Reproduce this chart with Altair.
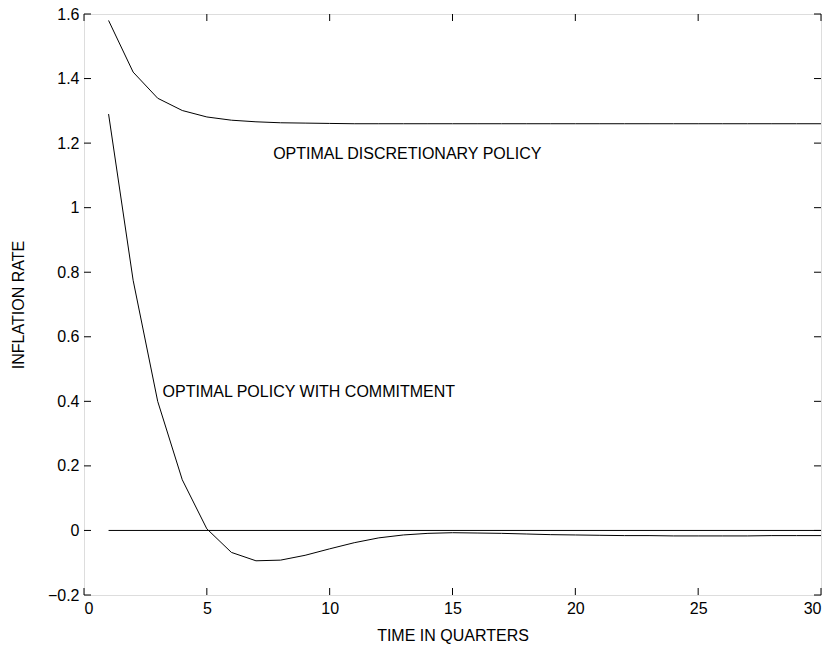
import altair as alt
import pandas as pd

quarters = list(range(1, 31))
discretionary = [1.58, 1.42, 1.339, 1.301, 1.281, 1.271, 1.266, 1.263, 1.262, 1.261,
                 1.260, 1.260, 1.260, 1.260, 1.260, 1.260, 1.260, 1.260, 1.260, 1.260,
                 1.260, 1.260, 1.260, 1.260, 1.260, 1.260, 1.260, 1.260, 1.260, 1.260]
commitment = [1.29, 0.775, 0.40, 0.157, 0.005, -0.068, -0.094, -0.092, -0.077, -0.057,
              -0.038, -0.023, -0.014, -0.009, -0.007, -0.008, -0.009, -0.011, -0.013, -0.014,
              -0.015, -0.016, -0.016, -0.017, -0.017, -0.017, -0.017, -0.016, -0.016, -0.016]
zero_x = [1, 30]
zero_y = [0, 0]
x_ticks = [0, 5, 10, 15, 20, 25, 30]
y_ticks = [-0.2, 0, 0.2, 0.4, 0.6, 0.8, 1.0, 1.2, 1.4, 1.6]
label_text = ["OPTIMAL DISCRETIONARY POLICY", "OPTIMAL POLICY WITH COMMITMENT"]
label_x = [7.7, 3.2]
label_y = [1.166, 0.43]

W, H = 737, 581
FONT = "Liberation Sans"
FS = 16

df = pd.DataFrame({
    "t": quarters * 2,
    "v": discretionary + commitment,
    "s": ["disc"] * 30 + ["comm"] * 30,
})
zdf = pd.DataFrame({"t": zero_x, "v": zero_y})
xt = pd.DataFrame({"t": x_ticks})
yt = pd.DataFrame({"v": y_ticks})
ldf = pd.DataFrame({"t": label_x, "v": label_y, "txt": label_text})

xscale = alt.Scale(domain=[0, 30], nice=False, zero=False)
yscale = alt.Scale(domain=[-0.2, 1.6], nice=False, zero=False)

xaxis = alt.Axis(values=x_ticks, domain=False, ticks=False, grid=False,
                 labelFont=FONT, labelFontSize=FS, labelColor="black", labelPadding=5,
                 title="TIME IN QUARTERS", titleFont=FONT, titleFontSize=FS,
                 titleFontWeight="normal", titleColor="black", titlePadding=11)
yaxis = alt.Axis(values=y_ticks, format=".1~f", domain=False, ticks=False, grid=False,
                 labelFont=FONT, labelFontSize=FS, labelColor="black", labelPadding=5,
                 title="INFLATION RATE", titleFont=FONT, titleFontSize=FS,
                 titleFontWeight="normal", titleColor="black", titlePadding=21)

lines = alt.Chart(df).mark_line(color="black", strokeWidth=1).encode(
    x=alt.X("t:Q", scale=xscale, axis=xaxis),
    y=alt.Y("v:Q", scale=yscale, axis=yaxis),
    detail="s:N",
)
zero = alt.Chart(zdf).mark_line(color="black", strokeWidth=1).encode(
    x=alt.X("t:Q", scale=xscale), y=alt.Y("v:Q", scale=yscale)
)
TL = 7
xb = alt.Chart(xt).mark_rule(color="black", strokeWidth=1).encode(
    x=alt.X("t:Q", scale=xscale), y=alt.value(H), y2=alt.value(H - TL))
xtop = alt.Chart(xt).mark_rule(color="black", strokeWidth=1).encode(
    x=alt.X("t:Q", scale=xscale), y=alt.value(0), y2=alt.value(TL))
yl = alt.Chart(yt).mark_rule(color="black", strokeWidth=1).encode(
    y=alt.Y("v:Q", scale=yscale), x=alt.value(0), x2=alt.value(TL))
yr = alt.Chart(yt).mark_rule(color="black", strokeWidth=1).encode(
    y=alt.Y("v:Q", scale=yscale), x=alt.value(W), x2=alt.value(W - TL))
labels = alt.Chart(ldf).mark_text(align="left", baseline="middle", font=FONT,
                                  fontSize=FS, color="black").encode(
    x=alt.X("t:Q", scale=xscale), y=alt.Y("v:Q", scale=yscale), text="txt:N")

chart = alt.layer(lines, zero, xb, xtop, yl, yr, labels).properties(
    width=W, height=H,
    autosize=alt.AutoSizeParams(type="none"),
    padding={"left": 84, "top": 14, "right": 11, "bottom": 61},
).configure_view(stroke="black", strokeWidth=1.3).configure(background="white")

chart.save("out.html", embed_options={"renderer": "svg", "actions": False})
